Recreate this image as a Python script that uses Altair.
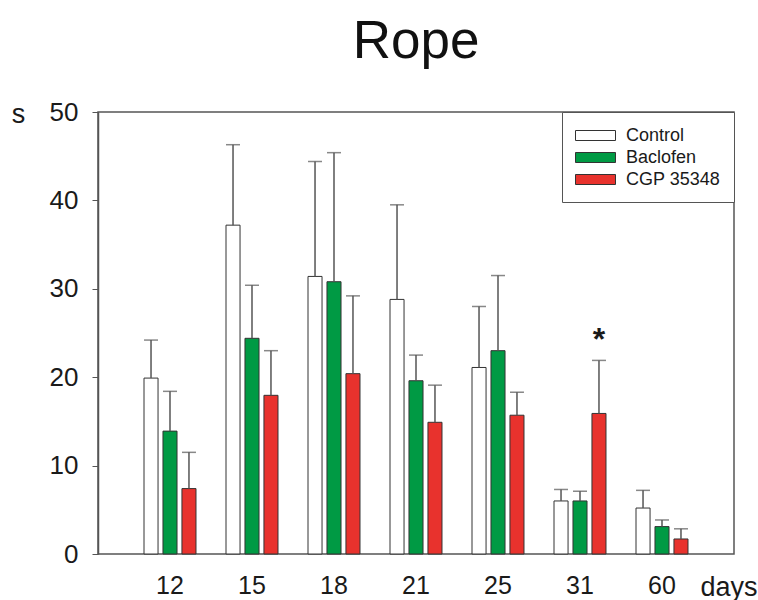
import altair as alt
import pandas as pd

days = ["12", "15", "18", "21", "25", "31", "60"]
groups = ["Control", "Baclofen", "CGP 35348"]
colors = ["#FFFFFF", "#009A44", "#E8322D"]

control = [19.9, 37.2, 31.4, 28.8, 21.1, 6.0, 5.2]
control_sem = [4.3, 9.1, 13.0, 10.7, 6.9, 1.3, 2.0]
baclofen = [13.9, 24.4, 30.8, 19.6, 23.0, 6.0, 3.1]
baclofen_sem = [4.5, 6.0, 14.6, 2.9, 8.5, 1.1, 0.75]
cgp = [7.4, 17.95, 20.4, 14.9, 15.7, 15.9, 1.7]
cgp_sem = [4.1, 5.05, 8.8, 4.2, 2.6, 6.0, 1.15]

sig_day = "31"
sig_group = "CGP 35348"

rows = []
for g, means, sems in zip(groups, [control, baclofen, cgp], [control_sem, baclofen_sem, cgp_sem]):
    for d, m, s in zip(days, means, sems):
        rows.append({"day": d, "group": g, "mean": m, "top": round(m + s, 3)})
df = pd.DataFrame(rows)
star_df = df[(df["day"] == sig_day) & (df["group"] == sig_group)]

FONT = "Liberation Sans"

x = alt.X(
    "day:N", sort=days,
    scale=alt.Scale(paddingInner=0.366, paddingOuter=0.561),
    axis=alt.Axis(title="days", labelAngle=0, ticks=False, domain=False,
                  labelFontSize=25, labelPadding=19, labelColor="#1a1a1a", labelFont=FONT,
                  titleX=602, titleY=41, titleAlign="left", titleBaseline="alphabetic",
                  titleFontSize=27, titleFontWeight="normal", titleColor="#1a1a1a", titleFont=FONT),
)
xo = alt.XOffset("group:N", sort=groups, scale=alt.Scale(paddingInner=0.26, paddingOuter=0))
yscale = alt.Scale(domain=[0, 50], nice=False)
yaxis = alt.Axis(values=[0, 10, 20, 30, 40, 50], grid=False, title="s",
                 titleAngle=0, titleX=-80, titleY=10, titleAlign="center",
                 titleBaseline="alphabetic", titleFontSize=27, titleFontWeight="normal",
                 titleColor="#1a1a1a", titleFont=FONT, labelFont=FONT,
                 labelFontSize=26, labelPadding=14, tickSize=6,
                 labelColor="#1a1a1a", domainColor="#555555", tickColor="#555555",
                 domainWidth=1.5, tickWidth=1)

bars = alt.Chart(df).mark_bar(stroke="#333333", strokeWidth=1).encode(
    x=x, xOffset=xo,
    y=alt.Y("mean:Q", scale=yscale, axis=yaxis),
    color=alt.Color("group:N", sort=groups, scale=alt.Scale(domain=groups, range=colors),
                    legend=alt.Legend(title=None, orient="none", legendX=464, legendY=0,
                                      symbolType="M-2,-0.5H2V0.5H-2Z", symbolSize=400,
                                      symbolOffset=10,
                                      symbolStrokeColor="#333333", symbolStrokeWidth=1,
                                      labelFontSize=18, labelOffset=20, rowPadding=2,
                                      padding=13, strokeColor="#555555",
                                      fillColor="white", labelFont=FONT, labelColor="#1a1a1a")),
)

rules = alt.Chart(df).mark_rule(color="#555555", strokeWidth=1.5).encode(
    x=x, xOffset=xo,
    y=alt.Y("mean:Q", scale=yscale, axis=yaxis), y2="top:Q",
)

caps = alt.Chart(df).mark_tick(color="#555555", thickness=1.5, size=14).encode(
    x=x, xOffset=xo,
    y=alt.Y("top:Q", scale=yscale, axis=yaxis),
)

star = alt.Chart(star_df).mark_text(text="*", fontSize=32, fontWeight="bold", dy=-10,
                                    baseline="alphabetic", color="#1a1a1a", font=FONT).encode(
    x=x, xOffset=xo,
    y=alt.Y("top:Q", scale=yscale, axis=yaxis),
)

chart = alt.layer(bars, rules, caps, star).properties(
    width=636, height=442,
    padding={"left": 98, "top": 112, "right": 24, "bottom": 46},
    autosize="none",
    background="white",
    title=alt.TitleParams("Rope", fontSize=53, font=FONT, fontWeight="normal",
                          anchor="middle", frame="group", baseline="alphabetic",
                          offset=-12, color="#111111"),
).configure_view(stroke="#555555", strokeWidth=1.5)

chart.save("out.html", embed_options={"renderer": "svg", "actions": False})
